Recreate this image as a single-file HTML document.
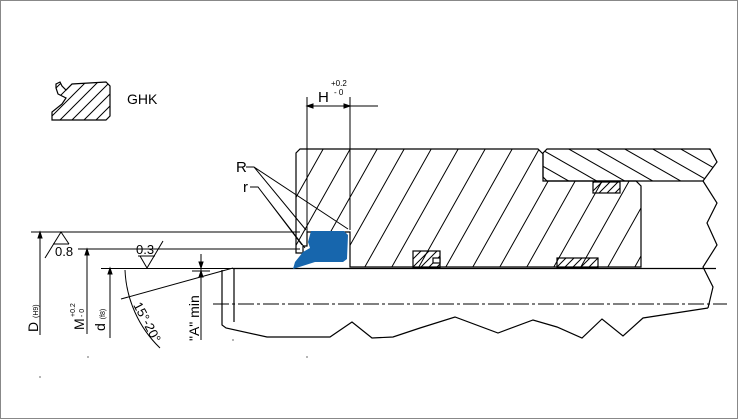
<!DOCTYPE html>
<html><head><style>
html,body{margin:0;padding:0;background:#fff}
svg{display:block}
text{font-family:"Liberation Sans",Arial,sans-serif;fill:#000}
</style></head><body>
<svg width="738" height="419" viewBox="0 0 738 419" xmlns="http://www.w3.org/2000/svg">
<defs>
<pattern id="h1b" patternUnits="userSpaceOnUse" width="27" height="48" x="2" y="0">
<path d="M0,48 L27,0 M-3,5.3 L3,-5.3 M24,53.3 L30,42.7" stroke="#000" stroke-width="1"/>
</pattern>
<pattern id="h2" patternUnits="userSpaceOnUse" width="28" height="16">
<path d="M0,0 L28,16 M-14,8 L14,24 M14,-8 L42,8" stroke="#000" stroke-width="1"/>
</pattern>
<pattern id="h3" patternUnits="userSpaceOnUse" width="8" height="8">
<path d="M0,8 L8,0 M-2,2 L2,-2 M6,10 L10,6" stroke="#000" stroke-width="1"/>
</pattern>
<pattern id="h4" patternUnits="userSpaceOnUse" width="12" height="12">
<path d="M0,12 L12,0 M-3,3 L3,-3 M9,15 L15,9" stroke="#000" stroke-width="1"/>
</pattern>
</defs>
<rect x="0.5" y="0.5" width="737" height="418" fill="#fff" stroke="#888"/>
<g fill="none" stroke="#000" stroke-width="1.2">
<!-- GHK icon -->
<path d="M56,84 L60,82 L62,86 L66,90 L72,84 L106,82 L110,86 L110,116 L106,120 L75,120 L52,120 L52,112 L62,104 L66,98 L58,94 L56,88 Z" fill="url(#h4)"/>
<!-- main housing -->
<path d="M300,149 L538,149 L543,154 L543,181 L636,181 L641,186 L641,267 L350,267 L350,232 L307,232 L307,246 L303,246 L303,253 L296,253 L296,153 Z" fill="url(#h1b)"/>
<!-- top right block -->
<path d="M547,149 L710,149 L717,162 L703,181 L547,181 L543,177 L543,153 Z" fill="url(#h2)"/>
<!-- right zigzag -->
<path d="M703,181 L717,203 L707,223 L717,245 L703,267 L713,287 L708,308"/>
<!-- bottom zigzag -->
<path d="M222,270 L222,325 L226,328 L267,337 L330,337 L352,322 L372,338 L393,337 L420,328 L455,317 L498,333 L533,320 L557,327 L582,338 L602,319 L623,336 L643,318 L708,308"/>
<line x1="234" y1="268" x2="234" y2="322"/>
<!-- rod line -->
<line x1="233" y1="268.5" x2="716" y2="268.5"/>
<!-- small glands -->
<rect x="413" y="251" width="27" height="17" fill="url(#h3)"/>
<rect x="433" y="258" width="7" height="5" fill="#fff"/>
<rect x="557" y="258" width="41" height="10" fill="url(#h3)"/>
<rect x="593" y="182" width="27" height="11" fill="url(#h3)"/>
</g>
<!-- centerline -->
<line x1="213" y1="304" x2="727" y2="304" stroke="#000" stroke-width="1" stroke-dasharray="16,3,3,3"/>
<!-- seal -->
<path d="M311,231 L344,231 L348,235 L347,259 L343,262 L315,262 L293,269 L295,262 L303,252 L310,248 L308,242 Z" fill="#1766ad"/>
<g stroke="#000" stroke-width="1" fill="none">
<!-- H dim -->
<line x1="307" y1="97" x2="307" y2="232"/>
<line x1="350" y1="97" x2="350" y2="230"/>
<line x1="307" y1="106" x2="378" y2="106"/>
<path d="M307,106 l6,-2 v4 z M350,106 l-6,-2 v4 z" fill="#000"/>
<!-- R r leaders -->
<path d="M246,167 L254,167 L306,230 M254,167 L348,229"/>
<path d="M250,187 L258,187 L302,245 M258,187 L305,248"/>
<!-- dimension lines -->
<line x1="31" y1="232" x2="300" y2="232"/>
<line x1="78" y1="249" x2="300" y2="249"/>
<line x1="101" y1="268.5" x2="233" y2="268.5"/>
<line x1="40" y1="232" x2="40" y2="335"/>
<line x1="87" y1="249" x2="87" y2="334"/>
<line x1="110" y1="268" x2="110" y2="338"/>
<line x1="201" y1="254" x2="201" y2="340"/>
<line x1="192" y1="271" x2="210" y2="271"/>
<path d="M40,232 l-2,6 h4 z M87,249 l-2,6 h4 z M110,268 l-2,6 h4 z M201,268 l-2,-6 h4 z M201,271 l-2,6 h4 z" fill="#000"/>
<!-- angle -->
<line x1="121" y1="299" x2="233" y2="268"/>
<path d="M125,270 A115,115 0 0 0 160,348"/>
<!-- roughness -->
<path d="M45,258 L61,232 L69,244 M53,244 L69,244"/>
<path d="M138,256 L155,256 M140,256 L147,268 L163,241"/>
</g>
<g fill="#000" stroke="none">
<circle cx="40" cy="377" r="0.6"/><circle cx="88" cy="357" r="0.6"/><circle cx="233" cy="340" r="0.6"/><circle cx="307" cy="357" r="0.6"/>
</g>
<text x="127" y="104" font-size="14">GHK</text>
<text x="318" y="102" font-size="15">H</text>
<text x="331" y="86" font-size="8">+0.2</text>
<text x="334" y="95" font-size="8">- 0</text>
<text x="236" y="172" font-size="15">R</text>
<text x="243" y="192" font-size="15">r</text>
<text x="55" y="256" font-size="13">0.8</text>
<text x="136" y="254" font-size="13">0.3</text>
<text transform="translate(38,332) rotate(-90)" font-size="14">D <tspan font-size="7">(H9)</tspan></text>
<text transform="translate(84,330) rotate(-90)" font-size="14">M</text>
<text transform="translate(75,317) rotate(-90)" font-size="7">+0.2</text>
<text transform="translate(84,317) rotate(-90)" font-size="7">- 0</text>
<text transform="translate(105,331) rotate(-90)" font-size="14">d <tspan font-size="7">(f8)</tspan></text>
<text transform="translate(199,341) rotate(-90)" font-size="14">"A" min</text>
<text transform="translate(133,305) rotate(62)" font-size="13">15°-20°</text>
</svg>
</body></html>
